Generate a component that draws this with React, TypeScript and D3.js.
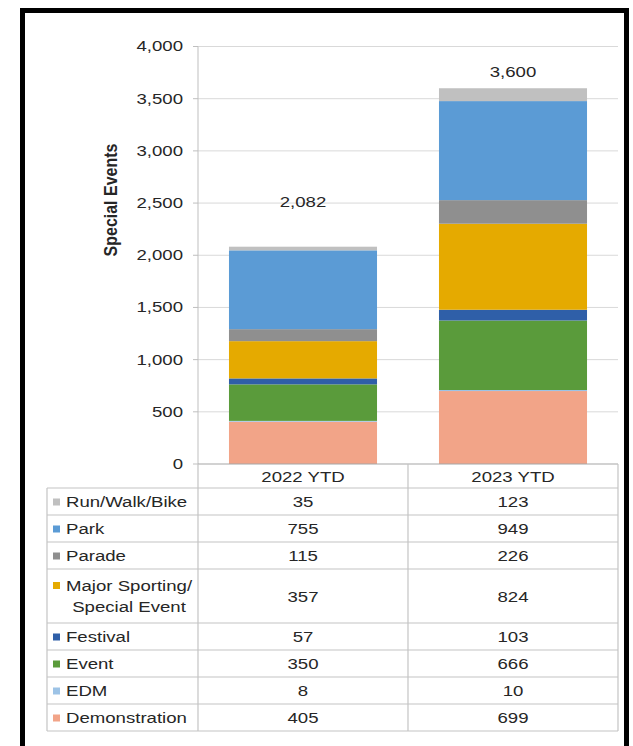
import React from "react";
import * as d3 from "d3";

// ---- data ----
const categories = ["2022 YTD", "2023 YTD"];
// stack order bottom -> top
const seriesNames = [
  "Demonstration",
  "EDM",
  "Event",
  "Festival",
  "Major Sporting/\nSpecial Event",
  "Parade",
  "Park",
  "Run/Walk/Bike",
];
const values2022 = [405, 8, 350, 57, 357, 115, 755, 35];
const values2023 = [699, 10, 666, 103, 824, 226, 949, 123];
const totals = [2082, 3600];
const yTicks = [0, 500, 1000, 1500, 2000, 2500, 3000, 3500, 4000];
const seriesColors = [
  "#F2A488",
  "#9DC3E6",
  "#5A9B3B",
  "#2F5FA8",
  "#E5AA00",
  "#8F8F8F",
  "#5B9BD5",
  "#C0C0C0",
];

// ---- layout ----
const W = 633;
const H = 746;
const plotLeft = 198;
const plotRight = 618;
const plotTop = 46.5;
const plotBottom = 464;
const tableLeft = 47;
const headerBottom = 488;
const unitRow = 27;
const SX = 1.2; // horizontal stretch of the source image text
const FS = 15.5;
const TXT = "#262626";
const FONT = "'Liberation Sans', Arial, sans-serif";
const totalLabelLift = [45, 16];

function T({ x, y, children, anchor = "middle", weight = 400, size = FS, fill = TXT }: any) {
  return (
    <text
      transform={`translate(${x},${y}) scale(${SX},1)`}
      textAnchor={anchor}
      dominantBaseline="central"
      fontFamily={FONT}
      fontSize={size}
      fontWeight={weight}
      fill={fill}
    >
      {children}
    </text>
  );
}

export default function App() {
  const y = d3.scaleLinear().domain([0, 4000]).range([plotBottom, plotTop]);
  const x = d3
    .scaleBand<string>()
    .domain(categories)
    .range([plotLeft, plotRight])
    .paddingInner(0.295)
    .paddingOuter(0.1475);

  const rows = categories.map((c, i) => {
    const vals = i === 0 ? values2022 : values2023;
    const o: any = { cat: c };
    seriesNames.forEach((s, j) => (o[s] = vals[j]));
    return o;
  });
  const stacked = d3.stack<any>().keys(seriesNames)(rows);

  // table rows top -> bottom
  const tableOrder = seriesNames.map((_, i) => i).reverse();
  const rowHeights = tableOrder.map((i) => (seriesNames[i].includes("\n") ? 2 : 1) * unitRow);
  const rowTops: number[] = [];
  let acc = headerBottom;
  rowHeights.forEach((h) => {
    rowTops.push(acc);
    acc += h;
  });
  const tableBottom = acc;
  const colCenter = (i: number) => plotLeft + x.step() * (i + 0.5);
  const colBoundary = (i: number) => plotLeft + x.step() * i;

  const gridColor = "#D9D9D9";
  const tableLine = "#C4C4C4";

  return (
    <div style={{ position: "absolute", left: 0, top: 0 }}>
      <svg width={W} height={H} style={{ display: "block", background: "#fff" }}>
        {/* gridlines */}
        {yTicks.slice(1).map((t) => (
          <line key={t} x1={plotLeft} x2={plotRight} y1={y(t)} y2={y(t)} stroke={gridColor} strokeWidth={1} />
        ))}
        {/* y axis */}
        <line x1={plotLeft} x2={plotLeft} y1={plotTop} y2={plotBottom} stroke="#BFBFBF" strokeWidth={1} />
        {yTicks.map((t) => (
          <g key={t}>
            <line x1={plotLeft - 5} x2={plotLeft} y1={y(t)} y2={y(t)} stroke="#BFBFBF" />
            <T x={183} y={y(t)} anchor="end">
              {d3.format(",")(t)}
            </T>
          </g>
        ))}
        {/* y title */}
        <text
          transform={`translate(117,200) scale(${SX},1) rotate(-90)`}
          textAnchor="middle"
          fontFamily={FONT}
          fontSize={16}
          fontWeight={700}
          fill={TXT}
        >
          Special Events
        </text>

        {/* bars */}
        {stacked.map((layer, si) =>
          layer.map((d, ci) => (
            <rect
              key={`${si}-${ci}`}
              x={x(categories[ci])}
              width={x.bandwidth()}
              y={y(d[1])}
              height={y(d[0]) - y(d[1])}
              fill={seriesColors[si]}
            />
          ))
        )}
        {/* totals */}
        {categories.map((c, i) => (
          <T key={c} x={x(c)! + x.bandwidth() / 2} y={y(totals[i]) - totalLabelLift[i]}>
            {d3.format(",")(totals[i])}
          </T>
        ))}

        {/* data table */}
        <g fill="none" stroke={tableLine} strokeWidth={1.2}>
          <line x1={plotLeft} x2={plotRight} y1={plotBottom} y2={plotBottom} stroke="#A6A6A6" />
          <line x1={tableLeft} x2={plotRight} y1={headerBottom} y2={headerBottom} />
          {rowTops.map((t, i) => (
            <line key={i} x1={tableLeft} x2={plotRight} y1={t + rowHeights[i]} y2={t + rowHeights[i]} />
          ))}
          <line x1={tableLeft} x2={tableLeft} y1={headerBottom} y2={tableBottom} />
          {[0, 1, 2].map((i) => (
            <line key={i} x1={colBoundary(i)} x2={colBoundary(i)} y1={plotBottom} y2={tableBottom} />
          ))}
        </g>
        {categories.map((c, i) => (
          <T key={c} x={colCenter(i)} y={(plotBottom + headerBottom) / 2 + 1}>
            {c}
          </T>
        ))}
        {tableOrder.map((si, r) => {
          const top = rowTops[r];
          const h = rowHeights[r];
          const cy = top + h / 2;
          const lines = seriesNames[si].split("\n");
          const firstCy = lines.length > 1 ? cy - 10 : cy + 1;
          return (
            <g key={si}>
              <rect x={53} y={firstCy - 4} width={7} height={7} fill={seriesColors[si]} />
              {lines.length === 1 ? (
                <T x={66} y={firstCy} anchor="start">
                  {lines[0]}
                </T>
              ) : (
                <>
                  <T x={66} y={firstCy} anchor="start">
                    {lines[0]}
                  </T>
                  <T x={129} y={firstCy + 21} anchor="middle">
                    {lines[1]}
                  </T>
                </>
              )}
              {[values2022, values2023].map((vals, ci) => (
                <T key={ci} x={colCenter(ci)} y={cy + 1}>
                  {vals[si]}
                </T>
              ))}
            </g>
          );
        })}

        {/* outer frame */}
        <rect x={22.5} y={10.5} width={604} height={H + 20} fill="none" stroke="#000" strokeWidth={5} />
      </svg>
    </div>
  );
}
